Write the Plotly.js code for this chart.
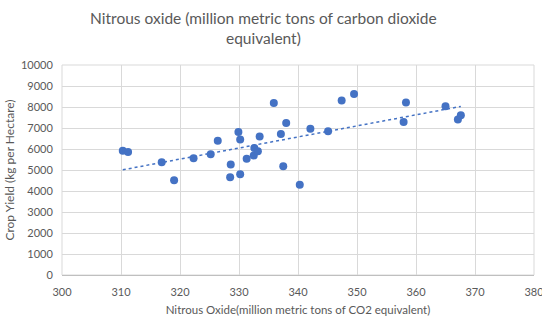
<!DOCTYPE html>
<html>
<head>
<meta charset="utf-8">
<script src="https://cdn.plot.ly/plotly-3.0.1.min.js"></script>
<style>html,body{margin:0;padding:0;background:#fff}#chart{width:542px;height:320px}</style>
</head>
<body>
<div id="chart"></div>
<script>
const nitrousOxide = [310.3, 311.2, 316.9, 319.0, 322.3, 325.2, 326.4, 328.5, 328.6, 329.9, 330.2, 330.2, 331.3, 332.5, 332.6, 333.2, 333.5, 335.9, 337.1, 337.5, 338.0, 340.3, 342.1, 345.1, 347.4, 349.5, 357.9, 358.3, 365.0, 367.1, 367.6];
const cropYield = [5920, 5860, 5370, 4510, 5560, 5750, 6390, 4655, 5260, 6810, 4800, 6455, 5530, 5690, 6050, 5890, 6600, 8190, 6720, 5180, 7240, 4300, 6970, 6840, 8310, 8620, 7280, 8220, 8030, 7410, 7610];
const xTicks = [300, 310, 320, 330, 340, 350, 360, 370, 380];
const yTicks = [0, 1000, 2000, 3000, 4000, 5000, 6000, 7000, 8000, 9000, 10000];

// Linear trendline (least squares) over the data range
const n = nitrousOxide.length;
const mx = nitrousOxide.reduce((a, b) => a + b, 0) / n;
const my = cropYield.reduce((a, b) => a + b, 0) / n;
let sxy = 0, sxx = 0;
for (let i = 0; i < n; i++) { sxy += (nitrousOxide[i] - mx) * (cropYield[i] - my); sxx += (nitrousOxide[i] - mx) ** 2; }
const slope = sxy / sxx, intercept = my - slope * mx;
const xMin = Math.min(...nitrousOxide), xMax = Math.max(...nitrousOxide);
const trendX = [xMin, xMax];
const trendY = trendX.map(v => intercept + slope * v);

const font = "Lato, 'Open Sans', sans-serif";
const data = [
  {x: nitrousOxide, y: cropYield, type: 'scatter', mode: 'markers',
   marker: {color: '#4472C4', size: 8}, showlegend: false, cliponaxis: false},
  {x: trendX, y: trendY, type: 'scatter', mode: 'lines',
   line: {color: '#4472C4', width: 1.5, dash: 'dot'}, showlegend: false}
];
const layout = {
  width: 542, height: 320,
  margin: {l: 62, r: 8, t: 65, b: 45},
  paper_bgcolor: '#fff', plot_bgcolor: '#fff',
  font: {family: font, color: '#595959', size: 11},
  title: {text: 'Nitrous oxide (million metric tons of carbon dioxide<br>equivalent)',
          font: {family: font, size: 15.5, color: '#595959'}, x: 0.486, xanchor: 'center',
          yref: 'container', y: 0.925, yanchor: 'middle', automargin: false},
  xaxis: {range: [300, 380], tickmode: 'array', tickvals: xTicks, ticktext: xTicks.map(String),
          showgrid: true, gridcolor: '#d9d9d9', gridwidth: 1, zeroline: false,
          showline: true, linecolor: '#bfbfbf', linewidth: 1,
          ticks: 'outside', ticklen: 7, tickcolor: 'rgba(0,0,0,0)', ticklabeloverflow: 'allow',
          tickfont: {size: 11, color: '#595959', family: font},
          title: {text: 'Nitrous Oxide(million metric tons of CO2 equivalent)', font: {size: 11.5, color: '#595959', family: font}, standoff: 8}},
  yaxis: {range: [0, 10000], tickmode: 'array', tickvals: yTicks, ticktext: yTicks.map(String),
          showgrid: true, gridcolor: '#d9d9d9', gridwidth: 1, zeroline: false,
          showline: false, ticks: 'outside', ticklen: 6, tickcolor: 'rgba(0,0,0,0)',
          tickfont: {size: 11, color: '#595959', family: font},
          title: {text: 'Crop Yield (kg per Hectare)', font: {size: 12, color: '#595959', family: font}, standoff: 3}},
  shapes: [{type: 'rect', xref: 'paper', yref: 'paper', x0: 0, x1: 1, y0: 0, y1: 1, line: {color: '#d9d9d9', width: 1}, layer: 'below'}]
};
Plotly.newPlot('chart', data, layout, {displayModeBar: false, staticPlot: true});
</script>
</body>
</html>
